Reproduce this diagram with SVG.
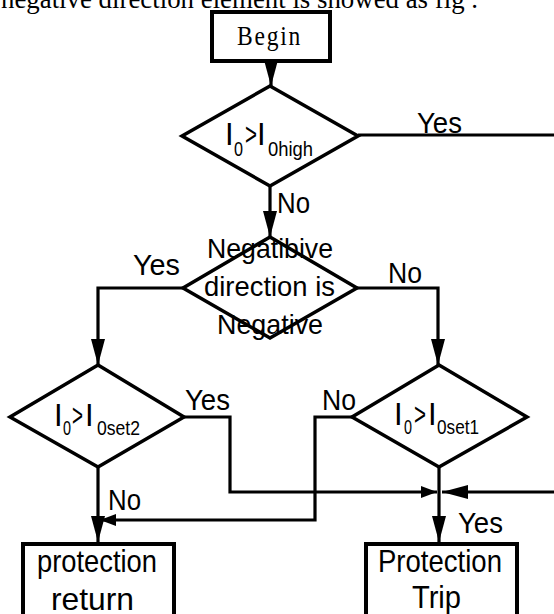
<svg xmlns="http://www.w3.org/2000/svg" width="554" height="614" viewBox="0 0 554 614">
<style>
.shape{fill:none;stroke:#000;stroke-width:3.5}
.box{fill:#fff;stroke:#000;stroke-width:4}
.ln{fill:none;stroke:#000;stroke-width:3.2;stroke-linejoin:miter}
.t{font-family:"Liberation Sans",Arial,sans-serif;fill:#000}
.lbl{font-family:"Liberation Sans",Arial,sans-serif;font-size:30px;fill:#000}
.m{font-size:31px}
.s{font-size:20px}
</style>
<defs>
<marker id="arr" markerUnits="userSpaceOnUse" viewBox="0 0 26 14" markerWidth="26" markerHeight="14" refX="26" refY="7" orient="auto">
<path d="M0,0 L26,7 L0,14 z" fill="#000"/>
</marker>
<marker id="arrS" markerUnits="userSpaceOnUse" viewBox="0 0 16 12" markerWidth="16" markerHeight="12" refX="16" refY="6" orient="auto">
<path d="M0,0 L16,6 L0,12 z" fill="#000"/>
</marker>
</defs>
<rect width="554" height="614" fill="#fff"/>
<text x="1" y="8" font-family="'Liberation Serif','Times New Roman',serif" font-size="27" textLength="477" lengthAdjust="spacingAndGlyphs">negative direction element is showed as fig .</text>

<g id="connectors">
<line class="ln" x1="271" y1="62" x2="271" y2="86" marker-end="url(#arr)"/>
<polyline class="ln" points="358,135 554,135"/>
<line class="ln" x1="270" y1="186" x2="270" y2="237" marker-end="url(#arr)"/>
<polyline class="ln" points="183,288 98,288 98,365" marker-end="url(#arr)"/>
<polyline class="ln" points="357,288 438,288 438,365" marker-end="url(#arr)"/>
<polyline class="ln" points="184,417 230,417 230,492 437,492" marker-end="url(#arrS)"/>
<polyline class="ln" points="554,492 442,492" marker-end="url(#arr)"/>
<polyline class="ln" points="352,417 315,417 315,520 100,520" marker-end="url(#arrS)"/>
<line class="ln" x1="98" y1="467" x2="98" y2="542" marker-end="url(#arr)"/>
<line class="ln" x1="439" y1="467" x2="439" y2="542" marker-end="url(#arr)"/>
<text class="lbl" x="417" y="133" textLength="45" lengthAdjust="spacingAndGlyphs">Yes</text>
<text class="lbl" x="277" y="213" textLength="33" lengthAdjust="spacingAndGlyphs">No</text>
<text class="lbl" x="133" y="275" textLength="47" lengthAdjust="spacingAndGlyphs">Yes</text>
<text class="lbl" x="388" y="283" textLength="34" lengthAdjust="spacingAndGlyphs">No</text>
<text class="lbl" x="185" y="410" textLength="45" lengthAdjust="spacingAndGlyphs">Yes</text>
<text class="lbl" x="322" y="410" textLength="34" lengthAdjust="spacingAndGlyphs">No</text>
<text class="lbl" x="108" y="510" textLength="33" lengthAdjust="spacingAndGlyphs">No</text>
<text class="lbl" x="458" y="533" textLength="45" lengthAdjust="spacingAndGlyphs">Yes</text>
</g>

<g id="begin">
<rect class="box" x="212" y="12" width="118" height="49"/>
<text x="237" y="45" font-family="'Liberation Serif','Times New Roman',serif" font-size="27" letter-spacing="2" textLength="65" lengthAdjust="spacingAndGlyphs">Begin</text>
</g>

<g id="d1">
<polygon class="shape" points="270,86 358,136 270,186 182,136"/>
<text class="t"><tspan class="m" x="225" y="145">I</tspan><tspan class="s" x="234" y="156" textLength="9" lengthAdjust="spacingAndGlyphs">0</tspan><tspan class="m" x="245" y="145" textLength="12" lengthAdjust="spacingAndGlyphs">&gt;</tspan><tspan class="m" x="257" y="145">I</tspan><tspan class="s" x="268" y="156" textLength="45" lengthAdjust="spacingAndGlyphs">0high</tspan></text>
</g>

<g id="d2">
<polygon class="shape" points="270,237 357,288 270,338 183,288"/>
<text class="t" font-size="28" x="207" y="258" textLength="126" lengthAdjust="spacingAndGlyphs">Negatibive</text>
<text class="t" font-size="28" x="204" y="296" textLength="131" lengthAdjust="spacingAndGlyphs">direction is</text>
<text class="t" font-size="28" x="217" y="334" textLength="106" lengthAdjust="spacingAndGlyphs">Negative</text>
</g>

<g id="d3">
<polygon class="shape" points="98,365 184,417 98,467 10,417"/>
<text class="t"><tspan class="m" x="54" y="426">I</tspan><tspan class="s" x="63" y="435" textLength="8" lengthAdjust="spacingAndGlyphs">0</tspan><tspan class="m" x="72" y="426" textLength="11" lengthAdjust="spacingAndGlyphs">&gt;</tspan><tspan class="m" x="85" y="426">I</tspan><tspan class="s" x="97" y="435" textLength="43" lengthAdjust="spacingAndGlyphs">0set2</tspan></text>
</g>

<g id="d4">
<polygon class="shape" points="439,365 527,417 439,467 352,417"/>
<text class="t"><tspan class="m" x="394" y="425">I</tspan><tspan class="s" x="404" y="434" textLength="8" lengthAdjust="spacingAndGlyphs">0</tspan><tspan class="m" x="414" y="425" textLength="12" lengthAdjust="spacingAndGlyphs">&gt;</tspan><tspan class="m" x="428" y="425">I</tspan><tspan class="s" x="437" y="434" textLength="42" lengthAdjust="spacingAndGlyphs">0set1</tspan></text>
</g>

<g id="ret">
<rect class="box" x="23" y="544" width="151" height="90"/>
<text class="t" font-size="32" x="37" y="572" textLength="120" lengthAdjust="spacingAndGlyphs">protection</text>
<text class="t" font-size="32" x="51" y="610" textLength="83" lengthAdjust="spacingAndGlyphs">return</text>
</g>

<g id="trip">
<rect class="box" x="366" y="544" width="151" height="90"/>
<text class="t" font-size="32" x="378" y="572" textLength="124" lengthAdjust="spacingAndGlyphs">Protection</text>
<text class="t" font-size="32" x="412" y="608" textLength="49" lengthAdjust="spacingAndGlyphs">Trip</text>
</g>
</svg>
